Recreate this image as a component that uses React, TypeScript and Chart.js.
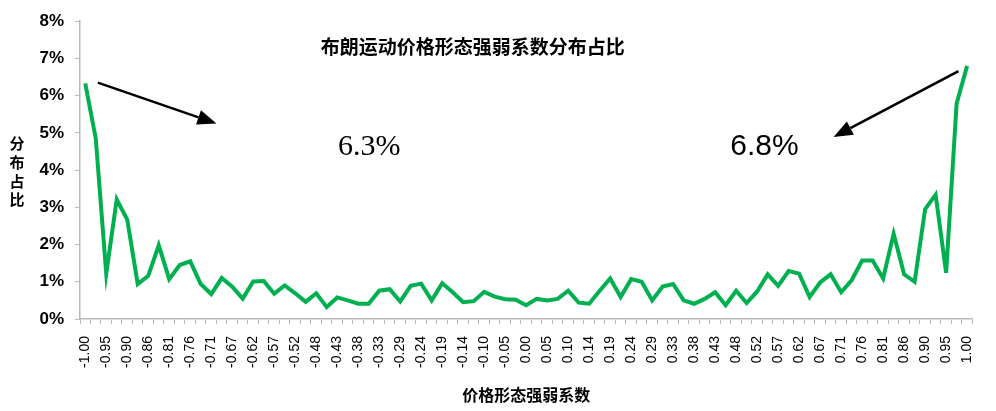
import React, { useEffect, useRef } from 'react';
import { Chart, registerables } from 'chart.js';

Chart.register(...registerables);

// ---- data ----
const categories: string[] = [
  '-1.00', '-0.98', '-0.95', '-0.93', '-0.90', '-0.88', '-0.86', '-0.83', '-0.81', '-0.79',
  '-0.76', '-0.74', '-0.71', '-0.69', '-0.67', '-0.64', '-0.62', '-0.60', '-0.57', '-0.55',
  '-0.52', '-0.50', '-0.48', '-0.45', '-0.43', '-0.40', '-0.38', '-0.36', '-0.33', '-0.31',
  '-0.29', '-0.26', '-0.24', '-0.21', '-0.19', '-0.17', '-0.14', '-0.12', '-0.10', '-0.07',
  '-0.05', '-0.02', '0.00', '0.02', '0.05', '0.07', '0.10', '0.12', '0.14', '0.17',
  '0.19', '0.21', '0.24', '0.26', '0.29', '0.31', '0.33', '0.36', '0.38', '0.40',
  '0.43', '0.45', '0.48', '0.50', '0.52', '0.55', '0.57', '0.60', '0.62', '0.64',
  '0.67', '0.69', '0.71', '0.74', '0.76', '0.79', '0.81', '0.83', '0.86', '0.88',
  '0.90', '0.93', '0.95', '0.98', '1.00',
];

// distribution share, in percent
const shareValues: number[] = [
  6.33, 4.85, 1.22, 3.21, 2.67, 0.94, 1.16, 1.98, 1.07, 1.45,
  1.55, 0.94, 0.67, 1.10, 0.87, 0.55, 1.01, 1.02, 0.68, 0.90,
  0.69, 0.46, 0.69, 0.32, 0.58, 0.50, 0.41, 0.41, 0.76, 0.80,
  0.47, 0.89, 0.95, 0.50, 0.96, 0.72, 0.45, 0.48, 0.73, 0.60,
  0.53, 0.52, 0.37, 0.54, 0.50, 0.54, 0.76, 0.44, 0.41, 0.76,
  1.09, 0.59, 1.07, 1.00, 0.50, 0.87, 0.94, 0.50, 0.41, 0.54,
  0.72, 0.37, 0.76, 0.43, 0.74, 1.20, 0.89, 1.29, 1.22, 0.59,
  0.98, 1.20, 0.72, 1.04, 1.57, 1.57, 1.09, 2.29, 1.20, 1.00,
  2.95, 3.34, 1.24, 5.79, 6.80,
];

const yTickLabels: string[] = ['0%', '1%', '2%', '3%', '4%', '5%', '6%', '7%', '8%'];

const chartTitle = '布朗运动价格形态强弱系数分布占比';
const xAxisTitle = '价格形态强弱系数';
const yAxisTitleChars: string[] = ['分', '布', '占', '比'];
const leftNote = '6.3%';
const rightNote = '6.8%';

// annotation anchors in data space: [category index, value %]
const titleAnchor = [36.9, 7.32];
const leftNoteAnchor = [27.06, 4.62];
const rightNoteAnchor = [64.7, 4.62];
const leftArrow = { from: [1.2, 6.35], to: [12.5, 5.25] };
const rightArrow = { from: [83.18, 6.66], to: [71.28, 4.89] };

const GREEN = 'rgb(0,176,80)';
const AXIS_GRAY = '#b9b9b9';
const SANS = 'Arial, "Liberation Sans", sans-serif';
const SERIF = '"Times New Roman", "Liberation Serif", serif';
const CJK = '"Noto Sans CJK SC", sans-serif';

function drawArrow(ctx: CanvasRenderingContext2D, x1: number, y1: number, x2: number, y2: number) {
  const ang = Math.atan2(y2 - y1, x2 - x1);
  const headLen = 19;
  const headHalf = 7.5;
  const bx = x2 - headLen * Math.cos(ang);
  const by = y2 - headLen * Math.sin(ang);
  ctx.beginPath();
  ctx.moveTo(x1, y1);
  ctx.lineTo(bx, by);
  ctx.lineWidth = 2.6;
  ctx.strokeStyle = '#000';
  ctx.stroke();
  ctx.beginPath();
  ctx.moveTo(x2, y2);
  ctx.lineTo(bx + headHalf * Math.sin(ang), by - headHalf * Math.cos(ang));
  ctx.lineTo(bx - headHalf * Math.sin(ang), by + headHalf * Math.cos(ang));
  ctx.closePath();
  ctx.fillStyle = '#000';
  ctx.fill();
}

const annotationPlugin = {
  id: 'annotationPlugin',
  afterDraw(chart: any) {
    const { ctx, scales, chartArea } = chart;
    const x = scales.x;
    const y = scales.y;
    const px = (p: number[]) => [x.getPixelForValue(p[0]), y.getPixelForValue(p[1])];
    ctx.save();
    ctx.textAlign = 'center';
    ctx.textBaseline = 'middle';
    ctx.fillStyle = '#000';

    // title
    ctx.font = `bold 19px ${CJK}`;
    const [tx, ty] = px(titleAnchor);
    ctx.fillText(chartTitle, tx, ty);

    // y-axis title, stacked characters
    ctx.font = `bold 15px ${CJK}`;
    const cy = (chartArea.top + chartArea.bottom) / 2 + 1.5;
    yAxisTitleChars.forEach((c, k) => {
      ctx.fillText(c, 17, cy + (k - 1.5) * 18.7);
    });

    // value notes
    ctx.font = `30px ${SERIF}`;
    const [lx, ly] = px(leftNoteAnchor);
    ctx.fillText(leftNote, lx, ly);
    ctx.font = `30px ${SANS}`;
    const [rx, ry] = px(rightNoteAnchor);
    ctx.fillText(rightNote, rx, ry);

    // arrows
    const [a1x, a1y] = px(leftArrow.from);
    const [a2x, a2y] = px(leftArrow.to);
    drawArrow(ctx, a1x, a1y, a2x, a2y);
    const [b1x, b1y] = px(rightArrow.from);
    const [b2x, b2y] = px(rightArrow.to);
    drawArrow(ctx, b1x, b1y, b2x, b2y);
    ctx.restore();
  },
};

export default function App() {
  const canvasRef = useRef<HTMLCanvasElement | null>(null);

  useEffect(() => {
    const canvas = canvasRef.current;
    if (!canvas) return;
    const chart = new Chart(canvas, {
      type: 'line',
      data: {
        labels: categories,
        datasets: [
          {
            data: shareValues,
            borderColor: GREEN,
            backgroundColor: GREEN,
            borderWidth: 4,
            pointRadius: 0,
            pointHoverRadius: 0,
            tension: 0,
            fill: false,
            borderJoinStyle: 'miter',
          },
        ],
      },
      options: {
        animation: false,
        responsive: false,
        devicePixelRatio: 1,
        layout: { padding: { left: 0, right: 14, top: 14, bottom: 0 } },
        plugins: {
          legend: { display: false },
          tooltip: { enabled: false },
          title: { display: false },
        },
        scales: {
          x: {
            type: 'category',
            offset: true,
            grid: {
              display: true,
              drawOnChartArea: false,
              drawTicks: true,
              tickLength: 5,
              offset: true,
              color: AXIS_GRAY,
              lineWidth: 1,
            },
            border: { display: true, color: AXIS_GRAY, width: 1.5 },
            ticks: {
              autoSkip: false,
              maxRotation: 90,
              minRotation: 90,
              padding: 12,
              color: '#000',
              font: { family: SANS, size: 14 },
              callback: (_v: any, i: number) => (i % 2 === 0 ? categories[i] : ''),
            },
            title: {
              display: true,
              text: xAxisTitle,
              color: '#000',
              font: { family: CJK, size: 16, weight: 'bold' },
              padding: { top: 0, bottom: 6 },
            },
            afterFit: (scale: any) => {
              scale.height = 92;
            },
          },
          y: {
            min: 0,
            max: 8,
            grid: {
              display: true,
              drawOnChartArea: false,
              drawTicks: true,
              tickLength: 5,
              color: AXIS_GRAY,
            },
            border: { display: true, color: AXIS_GRAY, width: 1.5 },
            ticks: {
              stepSize: 1,
              padding: 11,
              color: '#000',
              font: { family: SANS, size: 17, weight: 'bold' },
              callback: (v: any) => yTickLabels[Math.round(Number(v))] ?? '',
            },
            afterFit: (scale: any) => {
              scale.width = 80;
            },
          },
        },
      },
      plugins: [annotationPlugin],
    });
    return () => chart.destroy();
  }, []);

  return (
    <div style={{ position: 'absolute', left: 0, top: 0, width: 996, height: 411, background: '#fff' }}>
      <canvas ref={canvasRef} width={996} height={411} style={{ display: 'block' }} />
    </div>
  );
}
